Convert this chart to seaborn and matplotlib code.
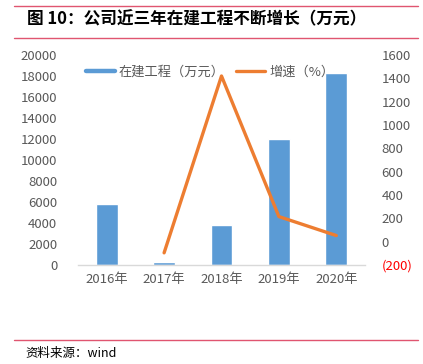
import numpy as np
import pandas as pd
import seaborn as sns
import matplotlib.pyplot as plt
from matplotlib.lines import Line2D

sns.set_theme(style="white")
plt.rcParams['font.family'] = ['Noto Sans CJK SC', 'DejaVu Sans']

# data
years = ['2016年', '2017年', '2018年', '2019年', '2020年']
construction = [5800, 250, 3800, 12000, 18300]   # 在建工程（万元）
growth = [np.nan, -95.7, 1420, 215, 52.5]        # 增速（%）
left_ticks = [0, 2000, 4000, 6000, 8000, 10000, 12000, 14000, 16000, 18000, 20000]
right_ticks = [-200, 0, 200, 400, 600, 800, 1000, 1200, 1400, 1600]

blue = '#5B9BD5'
orange = '#ED7D31'
grey = '#595959'

df = pd.DataFrame({'year': years, 'value': construction, 'growth': growth})
df['pos'] = range(len(df))

fig = plt.figure(figsize=(4.23, 3.64), dpi=100)
ax = fig.add_axes([78 / 423, 99 / 364, 287 / 423, 210 / 364])

sns.barplot(x='year', y='value', data=df, color=blue, width=0.38,
            saturation=1, ax=ax)
ax.set_ylim(0, 20000)
ax.set_yticks(left_ticks)
ax.set_yticklabels([str(t) for t in left_ticks], fontsize=9.5, color=grey)
ax.set_xticklabels(years, fontsize=9.5, color=grey)
ax.set_xlabel('')
ax.set_ylabel('')
ax.tick_params(axis='both', length=0)
ax.tick_params(axis='y', pad=15)
ax.tick_params(axis='x', pad=6)
for s in ['top', 'right', 'left']:
    ax.spines[s].set_visible(False)
ax.spines['bottom'].set_color('#d9d9d9')
ax.spines['bottom'].set_linewidth(1)

ax2 = ax.twinx()
sns.lineplot(x='pos', y='growth', data=df, color=orange, linewidth=2.4,
             ax=ax2)
ax2.set_ylim(-200, 1600)
ax2.set_yticks(right_ticks)
ax2.set_yticklabels(['(200)' if t < 0 else str(t) for t in right_ticks],
                    fontsize=9.5, color=grey)
ax2.get_yticklabels()[0].set_color('red')
ax2.tick_params(axis='y', length=0, pad=12)
ax2.set_ylabel('')
for s in ax2.spines.values():
    s.set_visible(False)
ax2.set_xlim(-0.5, len(years) - 0.5)

handles = [Line2D([], [], color=blue, linewidth=3.2),
           Line2D([], [], color=orange, linewidth=2.4)]
fig.legend(handles, ['在建工程（万元）', '增速（%）'], loc='center',
           bbox_to_anchor=(210 / 423, 1 - 72 / 364), ncol=2, frameon=False,
           fontsize=9.5, labelcolor=grey, handlelength=2.2,
           handletextpad=0.3, columnspacing=0.9)

# title and source with red rules
fig.text(27 / 423, 1 - 19 / 364, '图 10：公司近三年在建工程不断增长（万元）',
         fontsize=12, fontweight='bold', color='black', va='center')
for y in [6, 38, 340]:
    fig.add_artist(Line2D([14 / 423, 418 / 423], [1 - y / 364, 1 - y / 364],
                          color='#e05570', linewidth=1))
fig.text(25 / 423, 1 - 353 / 364, '资料来源：wind', fontsize=9,
         color='black', va='center')

fig.savefig('out.png', dpi=100)
